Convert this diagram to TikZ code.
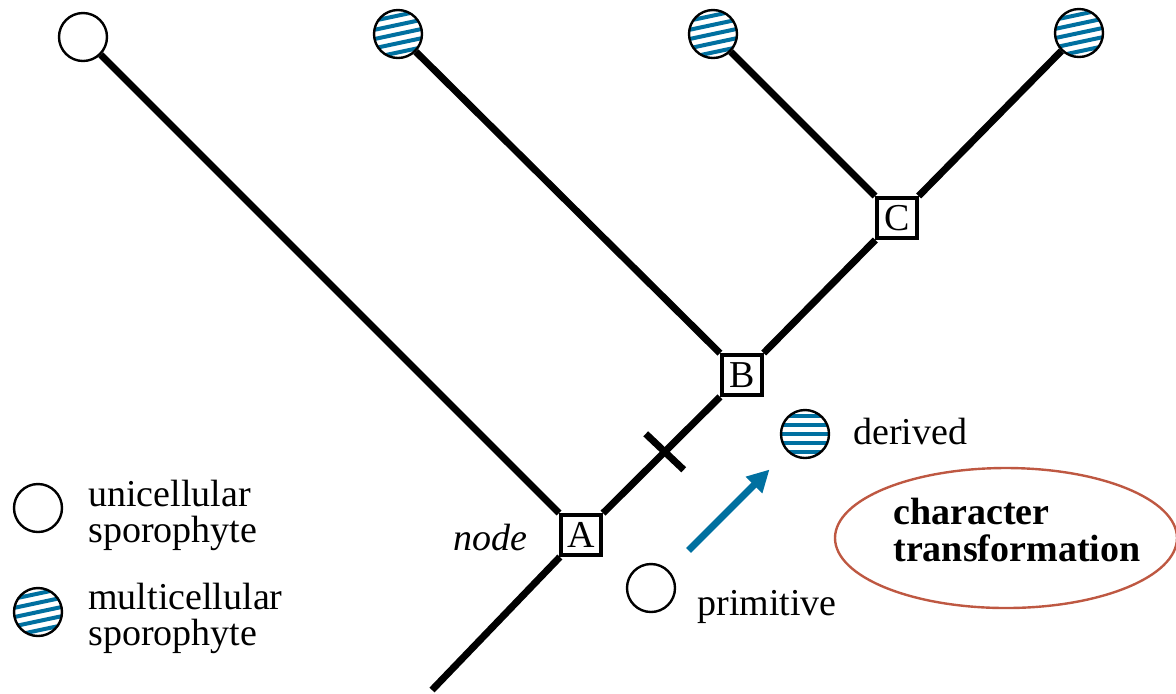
\documentclass[tikz,border=0pt]{standalone}
\usepackage{fontspec}
\setmainfont{Liberation Serif}
\usetikzlibrary{shapes.geometric, arrows.meta, calc}
\definecolor{stripecol}{RGB}{0,112,160}
\definecolor{ringcol}{RGB}{190,88,66}
\tikzstyle{branch} = [line width=3.5pt]
\tikzstyle{leaf} = [circle, draw, line width=1.2pt, fill=white, minimum size=24pt, inner sep=0pt]
\tikzset{striped/.style={leaf, path picture={
	\foreach \s in {-9,-4.5,0,4.5,9}
		\draw[stripecol, line width=2pt]
			([shift={({(-14*cos(#1)-(\s)*sin(#1))*1pt}, {(-14*sin(#1)+(\s)*cos(#1))*1pt})}]path picture bounding box.center) --
			([shift={({(14*cos(#1)-(\s)*sin(#1))*1pt}, {(14*sin(#1)+(\s)*cos(#1))*1pt})}]path picture bounding box.center);}},
	striped/.default=12}
\tikzstyle{clade} = [rectangle, draw, line width=2pt, fill=white, minimum size=20pt, inner sep=0pt, font=\fontsize{19}{18}\selectfont]
\tikzstyle{txt} = [font=\fontsize{19}{18}\selectfont, align=left, inner sep=0pt]
\tikzstyle{boldtxt} = [txt, font=\fontsize{19}{18.5}\selectfont\bfseries]
\tikzstyle{ring} = [ellipse, draw=ringcol, line width=1.2pt, minimum width=171pt, minimum height=70pt]
\tikzstyle{arrow} = [line width=3.5pt, stripecol, -{Triangle[length=11pt,width=11pt]}]

\begin{document}
\begin{tikzpicture}[x=0.5pt, y=-0.5pt]
\useasboundingbox (0,0) rectangle (1176,693);
% tree
\node[leaf] (l1) at (83,37) {};
\foreach \n/\x/\y in {l2/398/34, l3/713/34, l4/1079/33}
	\node[striped] (\n) at (\x,\y) {};
\node[clade] (A) at (581,535) {A};
\node[clade] (B) at (742,375) {B};
\node[clade] (C) at (897,218) {C};
\coordinate (root) at (432,690);
\foreach \a/\b in {l1/A, l2/B, l3/C, l4/C, A/B, B/C, root/A}
	\draw[branch] (\a) -- (\b);
\coordinate (cut) at ($(A)!0.52!(B)$);
\draw[branch] ($(cut)+(-19,-18)$) -- ($(cut)+(19,18)$);
\node[txt, anchor=east] (nodetxt) at (528,537) {\itshape node};
% legend
\node[leaf] (key1) at (38,508) {};
\node[txt, anchor=west] (key1txt) at (88,515) {unicellular\\sporophyte};
\node[striped] (key2) at (38,612) {};
\node[txt, anchor=west] (key2txt) at (88,618) {multicellular\\sporophyte};
% character transformation
\node[leaf] (prim) at (651,588) {};
\node[txt, anchor=west] (primtxt) at (697,607) {primitive};
\node[striped=0] (der) at (805,434) {};
\node[txt, anchor=west] (dertxt) at (853,431) {derived};
\draw[arrow, shorten <=14pt, shorten >=12.5pt] (prim) -- (der);
\node[ring] (ring) at (1006,538) {};
\node[boldtxt, anchor=west] (ringtxt) at (893,530) {character\\transformation};
\end{tikzpicture}
\end{document}
